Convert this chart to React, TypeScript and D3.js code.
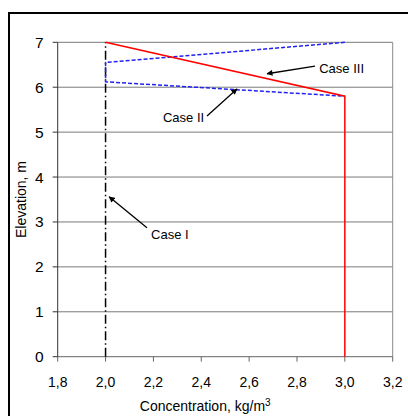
import * as d3 from "d3";

// axis ticks
const xTicks = [1.8, 2.0, 2.2, 2.4, 2.6, 2.8, 3.0, 3.2];
const yTicks = [0, 1, 2, 3, 4, 5, 6, 7];

// profiles (concentration, elevation)
const caseI: [number, number][] = [
  [2.0, 0],
  [2.0, 7.0],
];
const caseII: [number, number][] = [
  [3.0, 7.0],
  [2.0, 6.55],
  [2.0, 6.12],
  [3.0, 5.8],
];
const caseIII: [number, number][] = [
  [2.0, 7.0],
  [3.0, 5.8],
  [3.0, 0],
];

// labels: text position, arrow tail, arrow tip (data units)
const labels = [
  { text: "Case III", tx: 2.893, ty: 6.41, anchor: "start", from: [2.875, 6.47], to: [2.675, 6.3] },
  { text: "Case II", tx: 2.412, ty: 5.32, anchor: "end", from: [2.424, 5.36], to: [2.549, 5.96] },
  { text: "Case I", tx: 2.19, ty: 2.73, anchor: "start", from: [2.173, 2.87], to: [2.015, 3.56] },
];

const W = 408;
const H = 416;
const margin = { top: 42.3, right: 15.3, bottom: 59.3, left: 57.7 };
const font = "'Liberation Sans', Arial, sans-serif";

export default function App() {
  const x = d3.scaleLinear().domain([1.8, 3.2]).range([margin.left, W - margin.right]);
  const y = d3.scaleLinear().domain([0, 7]).range([H - margin.bottom, margin.top]);
  const line = d3
    .line<[number, number]>()
    .x((d) => x(d[0]))
    .y((d) => y(d[1]));

  const x0 = x(1.8);
  const x1 = x(3.2);
  const y0 = y(0);
  const y1 = y(7);

  return (
    <svg
      width={W}
      height={H}
      style={{ position: "absolute", left: 0, top: 0, background: "#fff" }}
      fontFamily={font}
    >
      <defs>
        <marker id="arr" viewBox="0 0 10 10" refX="9" refY="5" markerWidth="7" markerHeight="6" orient="auto" markerUnits="userSpaceOnUse">
          <path d="M0,0 L10,5 L0,10 z" fill="#000" />
        </marker>
      </defs>
      <rect x={9} y={13} width={W + 20} height={H + 20} fill="none" stroke="#000" strokeWidth={2} />

      {/* grid */}
      {yTicks.slice(1).map((t) => (
        <line key={t} x1={x0} x2={x1} y1={y(t)} y2={y(t)} stroke="#7a7a7a" strokeWidth={1} />
      ))}
      <line x1={x1} x2={x1} y1={y1} y2={y0} stroke="#8a8a8a" strokeWidth={1} />

      {/* x axis */}
      <line x1={x0} x2={x1} y1={y0} y2={y0} stroke="#666" strokeWidth={1} />
      {xTicks.map((t) => (
        <g key={t}>
          <line x1={x(t)} x2={x(t)} y1={y0} y2={y0 + 5} stroke="#666" />
          <text x={x(t)} y={y0 + 30} textAnchor="middle" fontSize={14} fill="#000">
            {t.toFixed(1).replace(".", ",")}
          </text>
        </g>
      ))}

      {/* y axis */}
      <line x1={x0} x2={x0} y1={y1} y2={y0} stroke="#333" strokeWidth={1} />
      {yTicks.map((t) => (
        <g key={t}>
          <line x1={x0 - 5} x2={x0} y1={y(t)} y2={y(t)} stroke="#333" />
          <text x={x0 - 14} y={y(t) + 5.5} textAnchor="end" fontSize={15.5} fill="#000">
            {t}
          </text>
        </g>
      ))}

      {/* profiles */}
      <path d={line(caseI) ?? ""} fill="none" stroke="#000" strokeWidth={1.5} strokeDasharray="9,3,1.5,3" />
      <path d={line(caseII) ?? ""} fill="none" stroke="#2222ee" strokeWidth={1.5} strokeDasharray="4,2" />
      <path d={line(caseIII) ?? ""} fill="none" stroke="#ff0000" strokeWidth={1.5} />

      {/* annotations */}
      {labels.map((l) => (
        <g key={l.text}>
          <line
            x1={x(l.from[0])}
            y1={y(l.from[1])}
            x2={x(l.to[0])}
            y2={y(l.to[1])}
            stroke="#000"
            strokeWidth={1.3}
            markerEnd="url(#arr)"
          />
          <text x={x(l.tx)} y={y(l.ty) + 4.5} textAnchor={l.anchor as any} fontSize={13} fill="#000">
            {l.text}
          </text>
        </g>
      ))}

      {/* axis titles */}
      <text x={(x0 + x1) / 2 - 20} y={H - 5} textAnchor="middle" fontSize={14} fill="#000">
        Concentration, kg/m<tspan dy={-5} fontSize={10}>3</tspan>
      </text>
      <text
        transform={`translate(26,${(y0 + y1) / 2}) rotate(-90)`}
        textAnchor="middle"
        fontSize={14}
        fill="#000"
      >
        Elevation, m
      </text>
    </svg>
  );
}
